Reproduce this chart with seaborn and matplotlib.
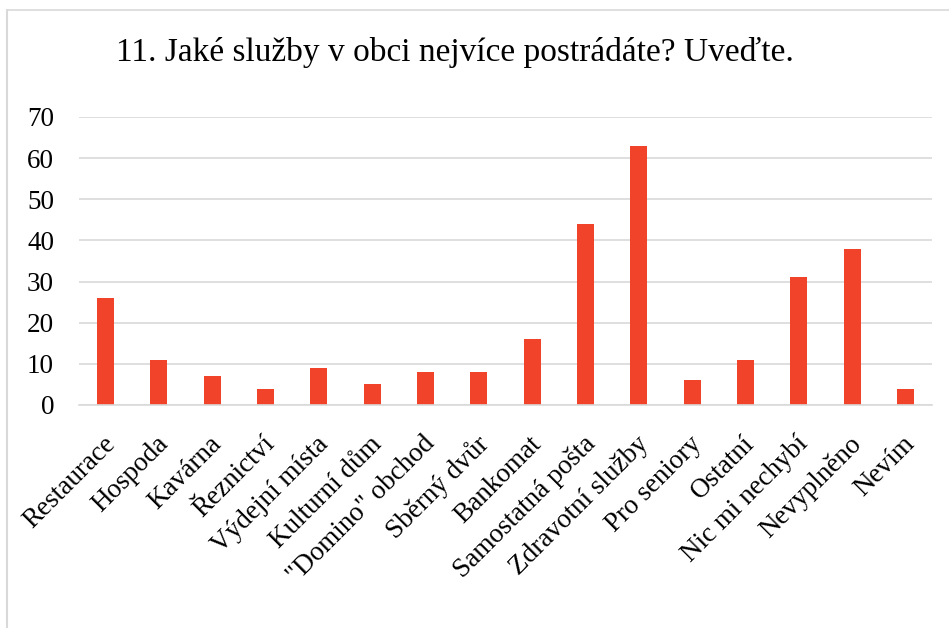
import matplotlib
matplotlib.use("Agg")
import matplotlib.pyplot as plt
import matplotlib.transforms as mtransforms
import seaborn as sns
import pandas as pd
from matplotlib.lines import Line2D

categories = ["Restaurace", "Hospoda", "Kavárna", "Řeznictví", "Výdejní místa",
              "Kulturní dům", "\"Domino\" obchod", "Sběrný dvůr", "Bankomat",
              "Samostatná pošta", "Zdravotní služby", "Pro seniory", "Ostatní",
              "Nic mi nechybí", "Nevyplněno", "Nevím"]
values = [26, 11, 7, 4, 9, 5, 8, 8, 16, 44, 63, 6, 11, 31, 38, 4]
yticks = [0, 10, 20, 30, 40, 50, 60, 70]
title = "11. Jaké služby v obci nejvíce postrádáte? Uveďte."

sns.set_theme(style="white")
plt.rcParams['font.family'] = ['Liberation Serif', 'DejaVu Serif']
plt.rcParams['text.color'] = 'black'
plt.rcParams['xtick.color'] = 'black'
plt.rcParams['ytick.color'] = 'black'

df = pd.DataFrame({"cat": categories, "val": values})

fig = plt.figure(figsize=(9.49, 6.28), dpi=100)
ax = fig.add_axes([79/949, 1-405/628, (932-79)/949, (405-117)/628])

sns.barplot(data=df, x="cat", y="val", color="#F0432A", width=0.32,
            saturation=1, ax=ax, edgecolor="none")

ax.set_ylim(0, 70)
ax.set_xlim(-0.5, len(categories) - 0.5)
ax.set_yticks(yticks)
ax.set_yticklabels([str(t) for t in yticks], fontsize=19.5, color="black")
ax.set_xticks(range(len(categories)))
ax.set_xticklabels(categories, rotation=45, ha="right", rotation_mode="anchor",
                   fontsize=19.5, color="black")
ax.tick_params(axis="x", pad=19, length=0)
ax.tick_params(axis="y", pad=18, length=0)
offset = mtransforms.ScaledTranslation(-3/100, 0, fig.dpi_scale_trans)
for lbl in ax.get_xticklabels():
    lbl.set_transform(lbl.get_transform() + offset)
ax.set_xlabel("")
ax.set_ylabel("")
ax.yaxis.grid(True, color="#D9D9D9", linewidth=1.2)
ax.set_axisbelow(True)
for s in ["top", "right", "left"]:
    ax.spines[s].set_visible(False)
ax.spines["bottom"].set_color("#D9D9D9")
ax.spines["bottom"].set_linewidth(1.2)

fig.text(455/949, 1-52/628, title, ha="center", va="center", fontsize=24, color="black")

# chart border (top and left)
fig.add_artist(Line2D([7/949, 1], [1-10/628, 1-10/628], color="#D9D9D9", linewidth=1.2, transform=fig.transFigure))
fig.add_artist(Line2D([7/949, 7/949], [0, 1-10/628], color="#D9D9D9", linewidth=1.5, transform=fig.transFigure))

fig.savefig("out.png", dpi=100)
